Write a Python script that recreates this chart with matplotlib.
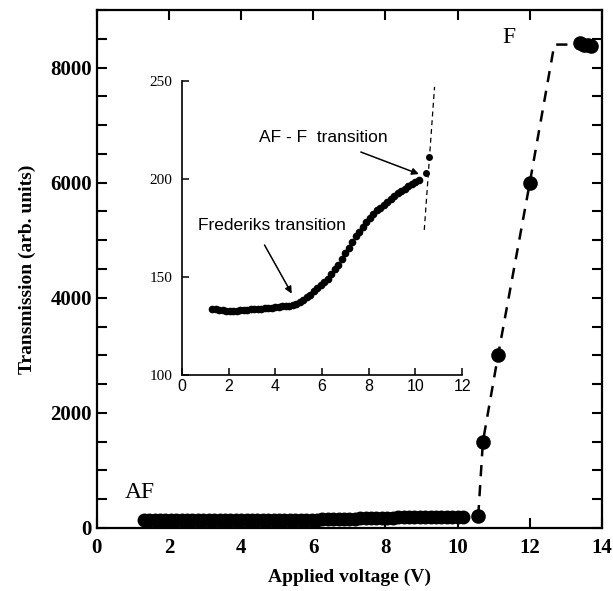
import numpy as np
import matplotlib
matplotlib.use("Agg")
import matplotlib.pyplot as plt

# low-field (AF) data, same set shown in main plot and in the inset
v_af = [1.30, 1.45, 1.60, 1.75, 1.90, 2.05, 2.20, 2.35, 2.50, 2.65, 2.80, 2.95,
        3.10, 3.25, 3.40, 3.55, 3.70, 3.85, 4.00, 4.15, 4.30, 4.45, 4.60, 4.75,
        4.90, 5.05, 5.20, 5.35, 5.50, 5.65, 5.80, 5.95, 6.10, 6.25, 6.40, 6.55,
        6.70, 6.85, 7.00, 7.15, 7.30, 7.45, 7.60, 7.75, 7.90, 8.05, 8.20, 8.35,
        8.50, 8.65, 8.80, 8.95, 9.10, 9.25, 9.40, 9.55, 9.70, 9.85, 10.00, 10.15]
t_af = [133.6, 133.5, 133.3, 133.1, 132.9, 132.8, 132.8, 132.9, 133.0, 133.2, 133.4, 133.5,
        133.6, 133.8, 133.9, 134.0, 134.2, 134.4, 134.6, 134.8, 135.0, 135.2, 135.4, 135.7,
        136.4, 137.3, 138.5, 139.6, 141.0, 142.6, 144.3, 146.0, 147.5, 149.2, 151.4, 154.0,
        156.3, 159.0, 162.0, 164.8, 167.8, 170.7, 173.0, 175.7, 178.2, 180.0, 182.2, 184.0,
        185.0, 186.6, 188.2, 190.0, 191.3, 192.6, 193.8, 195.0, 196.2, 197.2, 198.5, 199.6]

# transition points (inset)
v_tr_in = [10.45, 10.58]
t_tr_in = [202.8, 211.0]
# dashed guide in inset
v_guide_in = [10.38, 10.82]
t_guide_in = [174.0, 247.0]

# high-field points (main)
v_hi = [10.57, 10.70, 11.12, 12.00, 13.40, 13.50, 13.60, 13.70]
t_hi = [205, 1500, 3000, 6000, 8420, 8400, 8390, 8370]
# dashed guide in main plot
v_guide = [10.57, 10.70, 11.12, 12.00, 12.68, 13.40]
t_guide = [205, 1500, 3000, 6000, 8400, 8400]

serif = "Liberation Serif"
sans = "Liberation Sans"

fig = plt.figure(figsize=(6.13, 5.91), dpi=100)
ax = fig.add_axes([0.158, 0.1066, 0.824, 0.8764])

ax.plot(v_af, t_af, "o", color="black", ms=9, mec="black")
ax.plot(v_hi, t_hi, "o", color="black", ms=9.5, mec="black")
ax.plot(v_guide, t_guide, color="black", lw=1.8, dashes=(4.5, 3.5))

ax.set_xlim(0, 14)
ax.set_ylim(0, 9000)
ax.set_xticks(np.arange(0, 15, 2))
ax.set_yticks(np.arange(0, 9000, 2000))
ax.set_yticks(np.arange(0, 9001, 500), minor=True)
ax.tick_params(which="both", direction="in", top=True, right=True, length=7, width=1.5)
ax.tick_params(axis="x", which="minor", top=False, bottom=False)
ax.tick_params(axis="x", pad=7)
for s in ax.spines.values():
    s.set_linewidth(1.6)
for lab in ax.get_xticklabels() + ax.get_yticklabels():
    lab.set_fontfamily(serif)
    lab.set_fontweight("bold")
    lab.set_fontsize(15)
ax.set_xlabel("Applied voltage (V)", fontfamily=serif, fontweight="bold", fontsize=14, labelpad=8)
ax.set_ylabel("Transmission (arb. units)", fontfamily=serif, fontweight="bold", fontsize=14, labelpad=10)

ax.text(0.78, 620, "AF", fontfamily=serif, fontsize=17, ha="left", va="center")
ax.text(11.25, 8520, "F", fontfamily=serif, fontsize=17, ha="left", va="center")

# inset
axi = fig.add_axes([0.297, 0.3655, 0.4568, 0.4975])
axi.plot(v_af, t_af, "o", color="black", ms=4.5)
axi.plot(v_tr_in, t_tr_in, "o", color="black", ms=4)
axi.plot(v_guide_in, t_guide_in, color="black", lw=0.9, dashes=(4, 3))
axi.set_xlim(0, 12)
axi.set_ylim(100, 250)
axi.set_xticks(np.arange(0, 13, 2))
axi.set_yticks([100, 150, 200, 250])
axi.spines["top"].set_visible(False)
axi.spines["right"].set_visible(False)
for s in axi.spines.values():
    s.set_linewidth(1.2)
axi.tick_params(direction="in", length=5, width=1.1, pad=3)
axi.tick_params(axis="y", pad=7)
for lab in axi.get_xticklabels():
    lab.set_fontfamily(sans)
    lab.set_fontsize(11.5)
for lab in axi.get_yticklabels():
    lab.set_fontfamily(serif)
    lab.set_fontsize(11)
axi.patch.set_alpha(0)

axi.annotate("AF - F  transition", xy=(10.15, 202.5), xytext=(3.3, 221.0),
             fontfamily=sans, fontsize=12.5, ha="left", va="center",
             arrowprops=dict(arrowstyle="-|>", color="black", lw=1.1, mutation_scale=10,
                             shrinkA=8, shrinkB=0))
axi.annotate("Frederiks transition", xy=(4.7, 141.5), xytext=(0.7, 176.5),
             fontfamily=sans, fontsize=12.5, ha="left", va="center",
             arrowprops=dict(arrowstyle="-|>", color="black", lw=1.1, mutation_scale=10,
                             shrinkA=8, shrinkB=0, relpos=(0.4, 0)))

fig.savefig("out.png", dpi=100)
